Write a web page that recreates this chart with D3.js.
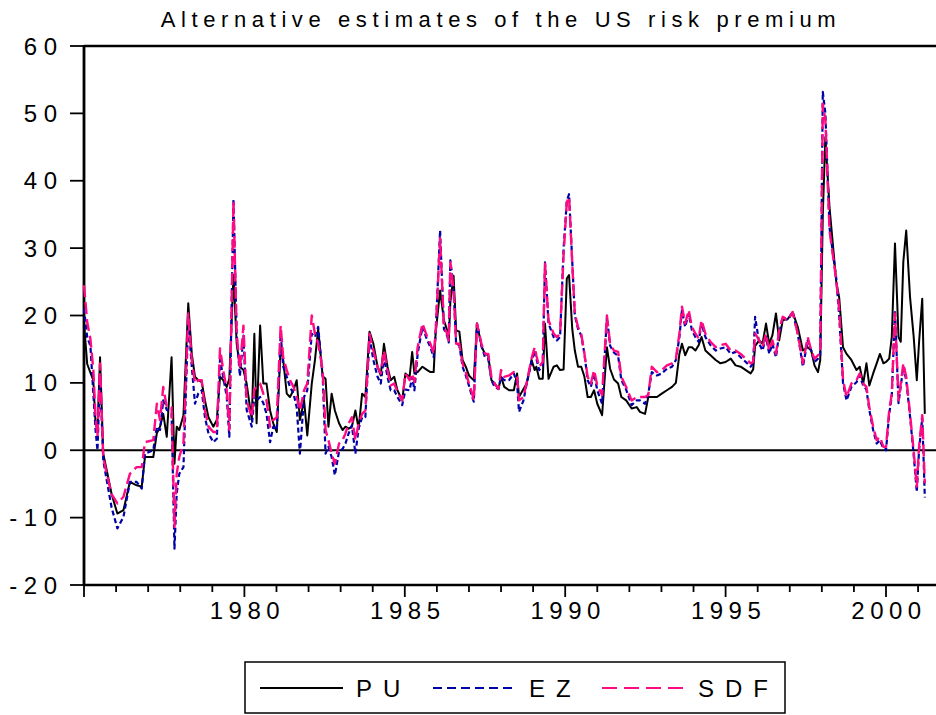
<!DOCTYPE html>
<html>
<head>
<meta charset="utf-8">
<script src="https://cdn.jsdelivr.net/npm/d3@7"></script>
<style>
  body { margin: 0; background: #fff; }
  svg { display: block; font-family: "Liberation Sans", Arial, sans-serif; }
</style>
</head>
<body>
<div id="chart"></div>
<script>
// sample dates (decimal years) shared by the three estimates
var dates = [
  1975.00, 1975.10, 1975.20, 1975.29, 1975.36, 1975.42, 1975.50, 1975.60, 1975.71, 1975.86,
  1976.04, 1976.23, 1976.43, 1976.64, 1976.80, 1976.90, 1977.16, 1977.27, 1977.37, 1977.47,
  1977.58, 1977.73, 1977.82, 1977.89, 1977.97, 1978.10, 1978.25, 1978.36, 1978.46, 1978.56,
  1978.67, 1978.77, 1978.88, 1979.03, 1979.14, 1979.24, 1979.34, 1979.45, 1979.53, 1979.66,
  1979.76, 1979.86, 1979.97, 1980.07, 1980.23, 1980.31, 1980.38, 1980.49, 1980.59, 1980.69,
  1980.80, 1980.90, 1981.01, 1981.13, 1981.21, 1981.32, 1981.42, 1981.53, 1981.63, 1981.73,
  1981.86, 1981.96, 1982.10, 1982.20, 1982.30, 1982.44, 1982.53, 1982.62, 1982.72, 1982.82,
  1982.95, 1983.06, 1983.15, 1983.25, 1983.35, 1983.46, 1983.56, 1983.67, 1983.77, 1983.90,
  1984.02, 1984.15, 1984.25, 1984.35, 1984.46, 1984.56, 1984.67, 1984.77, 1984.92, 1985.02,
  1985.15, 1985.23, 1985.30, 1985.40, 1985.55, 1985.70, 1985.80, 1985.90, 1985.96, 1986.10,
  1986.22, 1986.32, 1986.37, 1986.42, 1986.52, 1986.60, 1986.70, 1986.80, 1986.90, 1987.00,
  1987.10, 1987.15, 1987.25, 1987.40, 1987.50, 1987.60, 1987.70, 1987.80, 1987.92, 1988.00,
  1988.10, 1988.25, 1988.40, 1988.50, 1988.56, 1988.70, 1988.80, 1988.95, 1989.05, 1989.10,
  1989.19, 1989.30, 1989.37, 1989.48, 1989.64, 1989.74, 1989.84, 1989.95, 1990.05, 1990.12,
  1990.22, 1990.30, 1990.40, 1990.50, 1990.60, 1990.70, 1990.80, 1990.90, 1991.00, 1991.15,
  1991.30, 1991.40, 1991.52, 1991.65, 1991.75, 1991.90, 1992.07, 1992.23, 1992.33, 1992.49,
  1992.59, 1992.70, 1992.86, 1993.01, 1993.17, 1993.33, 1993.45, 1993.56, 1993.64, 1993.74,
  1993.85, 1993.95, 1994.06, 1994.16, 1994.25, 1994.37, 1994.53, 1994.69, 1994.84, 1995.00,
  1995.16, 1995.31, 1995.47, 1995.63, 1995.78, 1995.86, 1995.92, 1996.05, 1996.15, 1996.26,
  1996.36, 1996.46, 1996.57, 1996.67, 1996.78, 1996.94, 1997.09, 1997.25, 1997.41, 1997.56,
  1997.67, 1997.77, 1997.88, 1997.95, 1998.03, 1998.11, 1998.24, 1998.45, 1998.54, 1998.66,
  1998.77, 1998.92, 1999.08, 1999.18, 1999.29, 1999.39, 1999.48, 1999.60, 1999.71, 1999.81,
  1999.92, 2000.00, 2000.10, 2000.18, 2000.28, 2000.39, 2000.46, 2000.54, 2000.63, 2000.75,
  2000.86, 2000.96, 2001.03, 2001.13, 2001.21
];

var pu = [
  18.8, 12.8, 11.5, 10.4, 4.0, 3.0, 13.8, -0.5, -3.0, -6.5,
  -9.4, -8.9, -4.7, -5.2, -5.4, -1.0, -1.0, 2.5, 3.5, 5.4,
  2.0, 13.8, -2.0, 3.5, 3.0, 5.2, 21.8, 14.3, 10.9, 10.4,
  10.1, 7.4, 4.9, 3.5, 4.5, 10.9, 10.4, 9.4, 10.6, 26.0,
  15.8, 12.4, 11.9, 9.9, 4.5, 17.3, 4.0, 18.5, 9.9, 9.9,
  5.9, 4.0, 2.7, 15.3, 13.4, 8.4, 7.9, 8.9, 10.4, 4.5,
  7.4, 2.2, 9.9, 13.4, 18.0, 11.0, 10.6, 3.5, 8.4, 5.9,
  4.0, 3.0, 3.5, 3.2, 3.5, 5.9, 3.2, 8.4, 7.9, 17.6,
  15.8, 12.4, 11.1, 15.8, 12.4, 10.4, 10.9, 8.9, 7.4, 11.4,
  10.9, 14.6, 11.4, 11.6, 12.4, 11.9, 11.6, 11.6, 17.3, 23.7,
  19.3, 17.8, 16.3, 22.0, 25.9, 17.8, 17.6, 13.4, 12.4, 11.1,
  10.6, 10.4, 18.8, 15.3, 14.3, 14.1, 10.4, 9.9, 9.1, 10.9,
  9.4, 8.9, 8.9, 11.4, 7.9, 9.1, 9.9, 13.4, 11.9, 12.4,
  10.6, 10.6, 18.8, 10.6, 12.4, 12.6, 11.9, 12.0, 25.5, 26.0,
  18.0, 14.8, 12.4, 12.4, 10.9, 7.9, 7.9, 8.9, 6.9, 5.2,
  15.3, 12.1, 10.5, 9.9, 7.9, 7.4, 6.2, 6.4, 5.7, 5.4,
  7.9, 7.9, 7.9, 8.4, 8.9, 9.4, 10.0, 14.3, 15.8, 14.1,
  15.3, 15.3, 14.8, 15.6, 16.8, 14.8, 14.1, 13.4, 12.9, 13.1,
  13.6, 12.6, 12.4, 11.9, 11.4, 12.0, 15.5, 16.3, 15.8, 18.8,
  15.8, 17.1, 20.3, 16.3, 19.3, 19.5, 20.5, 18.3, 14.8, 15.3,
  14.8, 12.6, 11.6, 13.4, 35.0, 46.5, 36.0, 25.0, 22.7, 15.3,
  14.3, 13.4, 11.9, 12.4, 9.9, 12.9, 9.6, 11.4, 12.9, 14.3,
  12.9, 13.1, 13.6, 16.8, 30.7, 16.8, 16.1, 28.0, 32.6, 22.7,
  17.0, 10.4, 16.0, 22.5, 5.4
];

var ez = [
  21.0, 16.8, 15.5, 8.5, 3.0, 0.0, 11.0, -1.5, -4.5, -8.5,
  -11.6, -9.9, -4.7, -4.7, -5.7, -0.5, 0.0, 3.5, 3.0, 7.4,
  6.0, 5.5, -14.6, -6.4, -3.5, -2.5, 19.3, 12.4, 6.9, 8.4,
  8.9, 4.9, 2.5, 1.2, 1.7, 13.4, 10.9, 7.9, 2.0, 37.3,
  17.0, 11.0, 17.0, 6.0, 3.5, 8.0, 7.4, 7.9, 7.0, 5.4,
  1.2, 3.5, 3.0, 17.3, 12.4, 10.9, 9.4, 8.4, 6.4, -0.5,
  7.9, 8.9, 17.3, 16.8, 18.3, 11.0, -0.5, 0.5, -1.0, -3.7,
  -0.2, 0.2, 1.0, 2.5, 3.7, -0.5, 3.2, 4.9, 4.9, 16.8,
  13.4, 10.9, 9.9, 13.8, 10.9, 8.9, 8.9, 7.9, 6.7, 9.0,
  8.9, 10.9, 8.9, 14.3, 18.3, 16.3, 15.3, 13.8, 17.3, 32.6,
  18.0, 17.0, 16.0, 28.2, 24.0, 15.8, 15.6, 12.4, 11.1, 9.6,
  7.9, 7.2, 18.8, 15.3, 13.8, 13.6, 10.4, 9.4, 9.1, 10.9,
  10.4, 10.4, 11.4, 9.9, 5.7, 7.4, 9.9, 13.1, 14.8, 13.6,
  11.9, 12.6, 27.9, 18.8, 16.8, 16.3, 16.8, 30.0, 37.0, 38.0,
  28.0, 20.0, 18.0, 17.0, 14.3, 10.4, 9.4, 11.4, 8.9, 6.9,
  19.8, 15.5, 14.5, 14.0, 10.4, 9.0, 6.7, 7.4, 7.4, 6.9,
  8.4, 11.6, 11.1, 11.4, 12.1, 12.4, 13.4, 16.8, 20.8, 18.3,
  20.3, 17.8, 16.8, 16.1, 18.8, 16.8, 15.6, 14.8, 15.1, 15.3,
  14.3, 14.6, 13.8, 13.1, 12.4, 12.9, 19.8, 15.8, 14.8, 16.8,
  14.3, 15.8, 13.8, 17.3, 19.8, 19.3, 20.5, 17.3, 12.4, 16.3,
  14.8, 13.1, 13.6, 14.0, 53.2, 50.0, 33.0, 25.5, 20.0, 10.0,
  7.4, 9.4, 10.1, 11.1, 9.6, 9.0, 6.0, 3.0, 1.0, 1.5,
  0.2, 0.0, 5.4, 8.0, 20.8, 7.0, 9.5, 12.4, 10.4, 5.0,
  -0.5, -6.2, 0.0, 4.8, -7.0
];

var sdf = [
  24.5, 19.0, 16.5, 12.0, 5.0, 2.0, 12.9, -1.0, -3.5, -6.5,
  -7.9, -6.9, -3.5, -2.5, -2.5, 1.2, 1.5, 6.9, 4.5, 9.4,
  6.4, 6.4, -11.4, -3.5, -1.0, 1.0, 20.3, 13.4, 9.9, 10.4,
  10.4, 5.9, 3.5, 2.7, 2.7, 15.1, 11.9, 8.9, 3.0, 37.0,
  17.3, 12.0, 18.5, 7.4, 4.9, 9.0, 9.4, 9.9, 8.4, 7.4,
  3.5, 4.5, 4.9, 18.5, 13.8, 11.9, 10.4, 9.4, 7.9, 5.9,
  8.9, 9.9, 20.0, 17.3, 15.8, 11.9, 3.0, 1.5, -0.5, -2.0,
  1.0, 1.5, 2.5, 4.0, 4.9, 1.5, 4.0, 5.4, 5.9, 17.3,
  14.8, 12.4, 11.4, 14.8, 11.9, 9.6, 9.9, 8.7, 7.4, 11.4,
  10.4, 11.4, 10.1, 15.3, 18.8, 16.8, 15.8, 14.3, 17.3, 31.5,
  18.3, 17.3, 16.3, 27.9, 24.0, 15.8, 15.8, 12.9, 11.6, 9.9,
  8.4, 7.4, 18.8, 15.6, 14.3, 14.3, 10.9, 9.9, 9.1, 11.9,
  10.9, 11.1, 11.6, 10.9, 7.4, 7.9, 10.1, 13.6, 15.3, 14.1,
  12.4, 13.1, 27.7, 19.3, 17.3, 16.8, 17.3, 29.0, 36.8, 37.6,
  27.7, 20.3, 18.3, 17.3, 14.3, 10.9, 9.9, 11.9, 9.6, 8.2,
  20.0, 15.8, 14.8, 14.6, 10.9, 9.4, 7.4, 7.9, 7.9, 7.9,
  8.2, 12.4, 11.6, 11.9, 12.6, 12.9, 13.6, 17.3, 21.3, 18.8,
  20.8, 18.3, 17.3, 16.6, 19.3, 17.3, 16.1, 15.3, 15.6, 15.8,
  14.8, 14.8, 14.3, 13.6, 12.9, 13.1, 17.3, 16.3, 15.3, 17.3,
  14.8, 16.3, 14.3, 17.8, 19.8, 19.3, 20.5, 17.3, 12.9, 16.8,
  14.8, 13.6, 14.1, 14.3, 51.4, 49.0, 32.6, 25.2, 21.0, 10.5,
  7.9, 9.9, 10.4, 11.4, 9.9, 9.4, 6.4, 3.5, 1.5, 2.0,
  0.5, 0.5, 5.9, 8.4, 20.3, 7.4, 9.9, 12.9, 10.9, 5.4,
  0.0, -5.4, 0.5, 5.2, -4.9
];

var yTicks = [-20, -10, 0, 10, 20, 30, 40, 50, 60];
var yearTicks = d3.range(1975, 2002);
var yearLabels = [1980, 1985, 1990, 1995, 2000];
var seriesNames = ['PU', 'EZ', 'SDF'];
var titleText = 'Alternative estimates of the US risk premium';

var width = 936, height = 715;
var plotLeft = 84, plotTop = 46, plotBottom = 585;

var svg = d3.select('#chart').append('svg')
	.attr('width', width)
	.attr('height', height);

var x = d3.scaleLinear().domain([1975, 2000]).range([plotLeft, 886]);
var y = d3.scaleLinear().domain([-20, 60]).range([plotBottom, plotTop]);

// title
svg.append('text')
	.attr('x', 498 + 3)
	.attr('y', 27)
	.attr('text-anchor', 'middle')
	.attr('font-size', 22)
	.attr('letter-spacing', 5.6)
	.text(titleText);

// frame: top, bottom, left, zero line
svg.append('line').attr('x1', plotLeft).attr('x2', width).attr('y1', y(60)).attr('y2', y(60))
	.attr('stroke', '#000').attr('stroke-width', 2.4);
svg.append('line').attr('x1', plotLeft).attr('x2', width).attr('y1', y(-20)).attr('y2', y(-20))
	.attr('stroke', '#000').attr('stroke-width', 2.4);
svg.append('line').attr('x1', plotLeft).attr('x2', plotLeft).attr('y1', y(60) - 1).attr('y2', y(-20) + 1)
	.attr('stroke', '#000').attr('stroke-width', 2.8);
svg.append('line').attr('x1', plotLeft).attr('x2', width).attr('y1', y(0)).attr('y2', y(0))
	.attr('stroke', '#000').attr('stroke-width', 1.8);

// y axis ticks and labels
svg.selectAll('.ytick').data(yTicks).enter().append('line')
	.attr('class', 'ytick')
	.attr('x1', 70).attr('x2', plotLeft)
	.attr('y1', function(d) { return y(d); })
	.attr('y2', function(d) { return y(d); })
	.attr('stroke', '#000').attr('stroke-width', 1.8);

svg.selectAll('.ylab').data(yTicks).enter().append('text')
	.attr('class', 'ylab')
	.attr('x', 57 + 6.5)
	.attr('y', function(d) { return y(d) + 8.5; })
	.attr('text-anchor', 'end')
	.attr('font-size', 24)
	.attr('letter-spacing', 6.5)
	.text(function(d) { return d; });

// x axis ticks and labels
svg.selectAll('.xtick').data(yearTicks).enter().append('line')
	.attr('class', 'xtick')
	.attr('x1', function(d) { return x(d); })
	.attr('x2', function(d) { return x(d); })
	.attr('y1', plotBottom)
	.attr('y2', function(d) { return d % 5 === 0 ? plotBottom + 12 : plotBottom + 7; })
	.attr('stroke', '#000').attr('stroke-width', 1.8);

svg.selectAll('.xlab').data(yearLabels).enter().append('text')
	.attr('class', 'xlab')
	.attr('x', function(d) { return x(d) + 3; })
	.attr('y', 619)
	.attr('text-anchor', 'middle')
	.attr('font-size', 24)
	.attr('letter-spacing', 5.5)
	.text(function(d) { return d; });

// series
var line = d3.line()
	.x(function(d) { return x(d[0]); })
	.y(function(d) { return y(d[1]); });

var styles = [
	{ values: pu, color: '#000000', width: 2, dash: null },
	{ values: ez, color: '#0000a8', width: 2.2, dash: '5,3' },
	{ values: sdf, color: '#ff0a82', width: 2.4, dash: '12,5' }
];

styles.forEach(function(s) {
	svg.append('path')
		.datum(dates.map(function(t, i) { return [t, s.values[i]]; }))
		.attr('fill', 'none')
		.attr('stroke', s.color)
		.attr('stroke-width', s.width)
		.attr('stroke-linejoin', 'round')
		.attr('stroke-dasharray', s.dash)
		.attr('d', line);
});

// legend
var legend = svg.append('g');
legend.append('rect')
	.attr('x', 245).attr('y', 662)
	.attr('width', 540).attr('height', 51)
	.attr('fill', '#fff').attr('stroke', '#000').attr('stroke-width', 1.5);

var legendX = [260, 433, 602];
var legendDash = [null, '9,5', '15,7'];
seriesNames.forEach(function(name, i) {
	legend.append('line')
		.attr('x1', legendX[i]).attr('x2', legendX[i] + 83)
		.attr('y1', 688).attr('y2', 688)
		.attr('stroke', styles[i].color)
		.attr('stroke-width', 2.2)
		.attr('stroke-dasharray', legendDash[i]);
	legend.append('text')
		.attr('x', legendX[i] + 96)
		.attr('y', 697)
		.attr('font-size', 24)
		.attr('letter-spacing', 11)
		.text(name);
});
</script>
</body>
</html>
